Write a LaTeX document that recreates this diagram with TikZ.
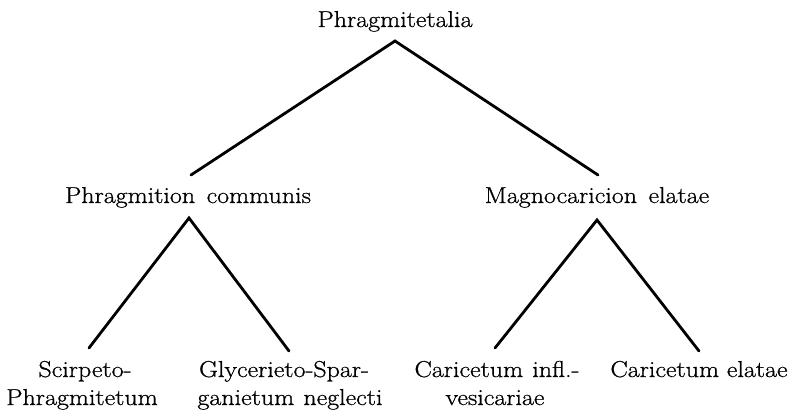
\documentclass[tikz,border=0pt]{standalone}
\usepackage{fontspec}
\setmainfont{Latin Modern Roman}[FakeStretch=1.13,FakeBold=0.8]
\begin{document}
\begin{tikzpicture}[x=1pt,y=-1pt,
  lbl/.style={anchor=base,inner sep=0pt,font=\fontsize{23}{27}\selectfont},
  branch/.style={line width=2.8pt,line cap=round,line join=miter}]
\useasboundingbox (0,0) rectangle (801,420);
\node[lbl] (root) at (395,27) {Phragmitetalia};
\node[lbl] (pc) at (188,203) {Phragmition\hspace{0.5em}communis};
\node[lbl] (me) at (597,203) {Magnocaricion\hspace{0.5em}elatae};
\node[lbl] (sp1) at (85,377) {Scirpeto-};
\node[lbl] (sp2) at (82,405) {Phragmitetum};
\node[lbl] (gs1) at (284,377) {Glycerieto-Spar-};
\node[lbl] (gs2) at (290,405) {ganietum\hspace{0.4em}neglecti};
\node[lbl] (ci1) at (497,377) {Caricetum\hspace{0.4em}infl.-};
\node[lbl] (ci2) at (495,405) {vesicariae};
\node[lbl] (ce) at (699,377) {Caricetum elatae};
\coordinate (a0) at (395,41);
\coordinate (a0l) at (191,175);
\coordinate (a0r) at (598,175);
\coordinate (a1) at (189,218);
\coordinate (a1l) at (89,348);
\coordinate (a1r) at (289,351);
\coordinate (a2) at (597,220);
\coordinate (a2l) at (495,348);
\coordinate (a2r) at (699,351);
\draw[branch] (a0l) -- (a0) -- (a0r);
\draw[branch] (a1l) -- (a1) -- (a1r);
\draw[branch] (a2l) -- (a2) -- (a2r);
\end{tikzpicture}
\end{document}
